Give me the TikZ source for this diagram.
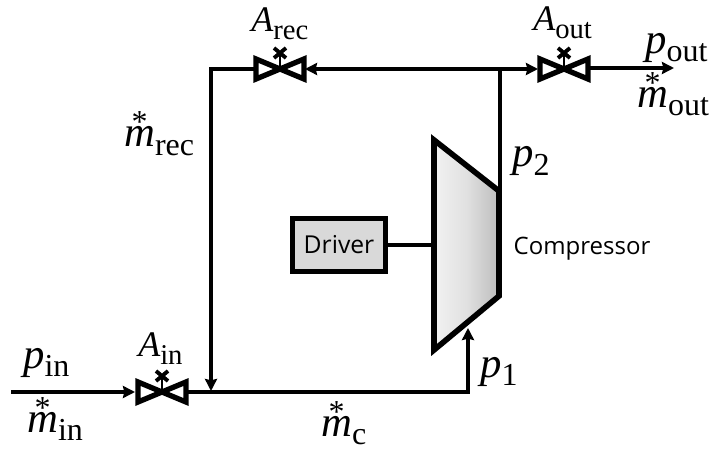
\documentclass[tikz,border=0pt]{standalone}
\usepackage{fontspec}
\setmainfont{Open Sans}
\newfontfamily\mfont{Liberation Serif}
\usetikzlibrary{arrows.meta,calc}
\newcommand{\subt}[2]{\raisebox{-6pt}{\mfont\fontsize{#1}{#1}\selectfont #2}}
\newcommand{\symP}[2]{{\mfont\itshape\fontsize{32}{32}\selectfont #1}\subt{24}{#2}}
\newcommand{\symA}[2]{{\mfont\itshape\fontsize{27}{27}\selectfont #1}\subt{21.5}{#2}}
\newcommand{\starm}[1]{\hbox to 0pt{\hspace{5.6pt}\raisebox{10.5pt}{\mfont\fontsize{24}{24}\selectfont *}\hss}{\mfont\itshape\fontsize{32}{32}\selectfont m}\subt{24}{#1}}
\tikzset{
  pipe/.style={line width=2.7pt,draw=black},
  tip/.style={-{Stealth[length=9pt,width=9pt,inset=1pt]}},
  lab/.style={inner sep=0pt,anchor=base west},
  valve/.pic={
    \draw[line width=4pt,miter limit=10,fill=white,line join=miter]
      (-24,-10) -- (24,10) -- (24,-10) -- (-24,10) -- cycle;
    \draw[line width=2pt] (0,0) -- (0,-14);
    \draw[line width=2.9pt] (-6,-21) -- (6,-11) (6,-21) -- (-6,-11);
  }
}
\begin{document}
\begin{tikzpicture}[x=0.75pt,y=-0.75pt]
\useasboundingbox (0,0) rectangle (714,449);
% coordinates
\coordinate (inS) at (11,392);
\coordinate (vinL) at (135,392);
\coordinate (vinR) at (188,392);
\coordinate (junc) at (211,392);
\coordinate (cinT) at (468,328);
\coordinate (vrecL) at (255,69);
\coordinate (vrecR) at (305,69);
\coordinate (voutL) at (538,69);
\coordinate (voutR) at (590,68);
\coordinate (outE) at (674,68);
\coordinate (tee) at (500,69);
\coordinate (cout) at (500,190);
\coordinate (cdrv) at (434,245);
% pipes
\draw[pipe,tip] (inS) -- (vinL);
\draw[pipe,tip] (vinR) -| (cinT);
\draw[pipe,tip] (vrecL) -| ($(junc)+(0,-1)$);
\draw[pipe,{Stealth[length=9pt,width=9pt,inset=1pt]}-{Stealth[length=9pt,width=9pt,inset=1pt]}] (vrecR) -- (voutL);
\draw[pipe] (tee) -- (cout);
\draw[pipe,tip] (voutR) -- (outE);
% valves
\pic at (162,392) {valve};
\pic at (280,69) {valve};
\pic at (564,69) {valve};
% compressor
\draw[line width=4.2pt,miter limit=10,left color=black!5,right color=black!26,middle color=black!12]
  (434,140) -- (499,191) -- (499,296) -- (434,350) -- cycle;
% driver
\node[draw=black,line width=3.9pt,fill=black!15,minimum width=70pt,minimum height=39.5pt,inner sep=0pt,
  font=\fontsize{18.5}{19}\selectfont] (drv) at (339,245) {Driver};
\draw[line width=2.7pt] (drv.east) -- (cdrv);
% labels
\node[inner sep=0pt,font=\fontsize{18}{18}\selectfont] (comp) at (582,249) {Compressor};
\node[lab] (pin) at (23,368) {\symP{p}{in}};
\node[lab] (min) at (27,432) {\starm{in}};
\node[lab] (ain) at (138,356) {\symA{A}{in}};
\node[lab] (arec) at (251,32) {\symA{A}{rec}};
\node[lab] (aout) at (533,31) {\symA{A}{out}};
\node[lab] (pout) at (645,54) {\symP{p}{out}};
\node[lab] (mout) at (637,108) {\starm{out}};
\node[lab] (mrec) at (124,147) {\starm{rec}};
\node[lab] (pp2) at (512,167) {\symP{p}{2}};
\node[lab] (pp1) at (480,377) {\symP{p}{1}};
\node[lab] (mc) at (321,436) {\starm{c}};
\end{tikzpicture}
\end{document}
